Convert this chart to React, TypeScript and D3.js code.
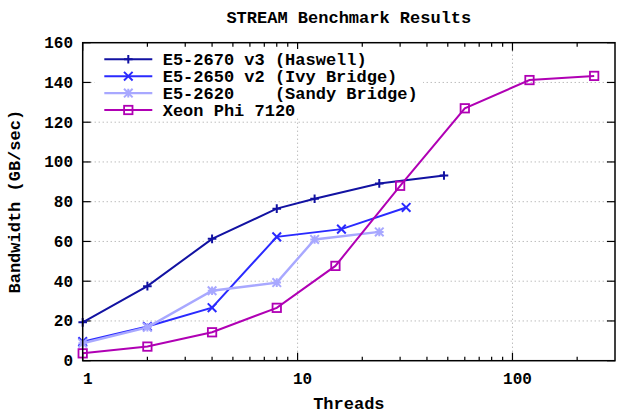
import React from "react";
import * as d3 from "d3";

const title = "STREAM Benchmark Results";
const xLabel = "Threads";
const yLabel = "Bandwidth (GB/sec)";

const seriesNames = [
  "E5-2670 v3 (Haswell)",
  "E5-2650 v2 (Ivy Bridge)",
  "E5-2620    (Sandy Bridge)",
  "Xeon Phi 7120",
];
const seriesColors = ["#1212a2", "#2a2aff", "#a8a8ff", "#b000b4"];
const seriesMarkers = ["plus", "cross", "star", "square"];

const haswellThreads = [1, 2, 4, 8, 12, 24, 48];
const haswellBw = [19.3, 37.5, 61.3, 76.5, 81.5, 89.2, 93.2];
const ivyThreads = [1, 2, 4, 8, 16, 32];
const ivyBw = [9.6, 17.2, 26.7, 62.3, 66.2, 77.1];
const sandyThreads = [1, 2, 4, 8, 12, 24];
const sandyBw = [8.8, 16.8, 35.2, 39.3, 61.0, 64.8];
const phiThreads = [1, 2, 4, 8, 15, 30, 60, 120, 240];
const phiBw = [3.7, 7.1, 14.3, 26.6, 47.7, 88.0, 127.0, 141.2, 143.3];

const xTickValues = [1, 10, 100];
const xMinorTicks = [2, 3, 4, 5, 6, 7, 8, 9, 20, 30, 40, 50, 60, 70, 80, 90, 200];
const yTickValues = [0, 20, 40, 60, 80, 100, 120, 140, 160];

const W = 624;
const H = 419;
const L = 82.7, R = 615, T = 42.7, B = 360.7;
const MONO = "'Liberation Mono', 'Courier New', monospace";

function Marker({ kind, x, y, color }: { kind: string; x: number; y: number; color: string }) {
  const s = 4.3;
  if (kind === "square") {
    return <rect x={x - 4.2} y={y - 4.2} width={8.4} height={8.4} fill="none" stroke={color} strokeWidth={1.8} />;
  }
  let d = "";
  if (kind === "plus" || kind === "star") d += `M${x - s},${y}H${x + s}M${x},${y - s}V${y + s}`;
  if (kind === "cross" || kind === "star") d += `M${x - s},${y - s}L${x + s},${y + s}M${x - s},${y + s}L${x + s},${y - s}`;
  return <path d={d} fill="none" stroke={color} strokeWidth={2} />;
}

export default function App() {
  const x = d3.scaleLog().domain([1, 300]).range([L, R]);
  const y = d3.scaleLinear().domain([0, 160]).range([B, T]);

  const series = [
    { xs: haswellThreads, ys: haswellBw },
    { xs: ivyThreads, ys: ivyBw },
    { xs: sandyThreads, ys: sandyBw },
    { xs: phiThreads, ys: phiBw },
  ];

  const line = d3
    .line<[number, number]>()
    .x((d) => x(d[0]))
    .y((d) => y(d[1]));

  const legendX1 = 104.3, legendX2 = 152.3, legendTextX = 162.7, legendY0 = 59.3, legendDy = 16.9;

  return (
    <svg
      width={W}
      height={H}
      viewBox={`0 0 ${W} ${H}`}
      style={{ position: "fixed", left: 0, top: 0, background: "#fff" }}
    >
      <rect x={0} y={0} width={W} height={H} fill="#fff" />
      {/* grid */}
      <g stroke="#a0a0a0" strokeWidth={1} strokeDasharray="1,3">
        {yTickValues.filter((v) => v > 0 && v < 160).map((v) => (
          <line key={"gy" + v} x1={L} x2={R} y1={y(v)} y2={y(v)} />
        ))}
        {xTickValues.filter((v) => v > 1).map((v) => (
          <line key={"gx" + v} x1={x(v)} x2={x(v)} y1={T} y2={B} />
        ))}
      </g>
      {/* ticks */}
      <g stroke="#000" strokeWidth={1.2}>
        {yTickValues.map((v) => (
          <g key={"ty" + v}>
            <line x1={L} x2={L + 8} y1={y(v)} y2={y(v)} />
            <line x1={R} x2={R - 8} y1={y(v)} y2={y(v)} />
          </g>
        ))}
        {xTickValues.map((v) => (
          <g key={"tx" + v}>
            <line x1={x(v)} x2={x(v)} y1={B} y2={B - 8} />
            <line x1={x(v)} x2={x(v)} y1={T} y2={T + 8} />
          </g>
        ))}
        {xMinorTicks.map((v) => (
          <g key={"tm" + v}>
            <line x1={x(v)} x2={x(v)} y1={B} y2={B - 4} />
            <line x1={x(v)} x2={x(v)} y1={T} y2={T + 4} />
          </g>
        ))}
      </g>
      {/* tick labels */}
      <g fontFamily={MONO} fontWeight="bold" fontSize={16} fill="#000">
        {yTickValues.map((v) => (
          <text key={"ly" + v} x={73} y={y(v) + 5.5} textAnchor="end">
            {v}
          </text>
        ))}
        {xTickValues.map((v) => (
          <text key={"lx" + v} x={x(v) + 5} y={384} textAnchor="middle">
            {v}
          </text>
        ))}
      </g>
      {/* data */}
      {series.map((s, i) => {
        const pts: [number, number][] = s.xs.map((t, j) => [t, s.ys[j]]);
        return (
          <g key={"s" + i}>
            <path d={line(pts) || ""} fill="none" stroke={seriesColors[i]} strokeWidth={i === 2 ? 2.4 : 2} />
            {pts.map((p, j) => (
              <Marker key={j} kind={seriesMarkers[i]} x={x(p[0])} y={y(p[1])} color={seriesColors[i]} />
            ))}
          </g>
        );
      })}
      {/* legend */}
      <rect x={95} y={49} width={328} height={69} fill="#fff" />
      {seriesNames.map((name, i) => {
        const ly = legendY0 + i * legendDy;
        return (
          <g key={"lg" + i}>
            <line x1={legendX1} x2={legendX2} y1={ly} y2={ly} stroke={seriesColors[i]} strokeWidth={i === 2 ? 2.4 : 2} />
            <Marker kind={seriesMarkers[i]} x={(legendX1 + legendX2) / 2} y={ly} color={seriesColors[i]} />
            <text
              x={legendTextX}
              y={ly + 5.5}
              fontFamily={MONO}
              fontWeight="bold"
              fontSize={17}
              fill="#000"
              style={{ whiteSpace: "pre" }}
              xmlSpace="preserve"
            >
              {name}
            </text>
          </g>
        );
      })}
      {/* frame */}
      <rect x={L} y={T} width={R - L} height={B - T} fill="none" stroke="#000" strokeWidth={1.5} />
      {/* titles */}
      <text x={(L + R) / 2} y={22.7} textAnchor="middle" fontFamily={MONO} fontWeight="bold" fontSize={17}>
        {title}
      </text>
      <text x={(L + R) / 2} y={408.7} textAnchor="middle" fontFamily={MONO} fontWeight="bold" fontSize={17}>
        {xLabel}
      </text>
      <text
        transform={`translate(19.5,${(T + B) / 2}) rotate(-90)`}
        textAnchor="middle"
        fontFamily={MONO}
        fontWeight="bold"
        fontSize={17}
      >
        {yLabel}
      </text>
    </svg>
  );
}
